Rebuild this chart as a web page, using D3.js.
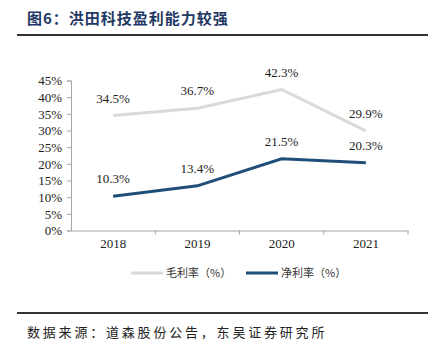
<!DOCTYPE html>
<html><head><meta charset="utf-8">
<script src="https://cdn.jsdelivr.net/npm/d3@7/dist/d3.min.js"></script>
<style>body{margin:0;background:#fff}svg{display:block}</style>
</head><body>
<svg id="c" width="434" height="357"></svg>
<script>
const years = ["2018","2019","2020","2021"];
const grossMargin = [34.5, 36.7, 42.3, 29.9];
const netMargin = [10.3, 13.4, 21.5, 20.3];
const yTicks = [0,5,10,15,20,25,30,35,40,45];
const seriesNames = ["毛利率（%）","净利率（%）"];

const svg = d3.select("#c");
const serif = "'Liberation Serif','Times New Roman',serif";
const cjk = "'Noto Sans CJK SC',sans-serif";

// title
svg.append("text").attr("x",27).attr("y",24).attr("font-family",cjk).attr("font-weight","bold")
  .attr("font-size",15).attr("letter-spacing",1).attr("fill","#1f3864").text("图6：洪田科技盈利能力较强");
svg.append("line").attr("x1",17).attr("x2",428).attr("y1",35).attr("y2",35).attr("stroke","#333").attr("stroke-width",2);

const x = d3.scaleBand().domain(years).range([71,408]);
const y = d3.scaleLinear().domain([0,45]).range([230.5,80.5]);
const axisColor = "#a6a6a6";

// y axis
const ya = svg.append("g").attr("transform","translate(71,0)")
  .call(d3.axisLeft(y).tickValues(yTicks).tickSize(4).tickFormat(d=>d+"%"));
ya.select(".domain").attr("stroke",axisColor);
ya.selectAll(".tick line").attr("stroke",axisColor);
ya.selectAll(".tick text").attr("font-family",serif).attr("font-size",13).attr("fill","#222").attr("dx",-2);

// x axis
const xa = svg.append("g").attr("transform","translate(0,230.5)")
  .call(d3.axisBottom(x).tickSize(0).tickSizeOuter(0));
xa.select(".domain").attr("stroke",axisColor);
xa.selectAll(".tick text").attr("font-family",serif).attr("font-size",13).attr("fill","#222").attr("dy","1.1em");
// band separators
xa.selectAll(".sep").data(years.slice(1).concat(["end"])).enter().append("line")
  .attr("x1",(d,i)=>i<3?x(d):x.range()[1]).attr("x2",(d,i)=>i<3?x(d):x.range()[1])
  .attr("y1",0).attr("y2",4).attr("stroke",axisColor);

const cx = d => x(d)+x.bandwidth()/2;
const line = d3.line().x((d,i)=>cx(years[i])).y(d=>y(d));

svg.append("path").datum(grossMargin).attr("d",line).attr("fill","none").attr("stroke","#d9d9d9").attr("stroke-width",3);
svg.append("path").datum(netMargin).attr("d",line).attr("fill","none").attr("stroke","#1f4e79").attr("stroke-width",3);

function labels(data){
  svg.append("g").selectAll("text").data(data).enter().append("text")
    .attr("x",(d,i)=>cx(years[i])).attr("y",d=>y(d)-13).attr("text-anchor","middle")
    .attr("font-family",serif).attr("font-size",13).attr("fill","#222").text(d=>d.toFixed(1)+"%");
}
labels(grossMargin);
labels(netMargin);

// legend
const lg = [{c:"#d9d9d9",x:131},{c:"#1f4e79",x:246}];
lg.forEach((l,i)=>{
  svg.append("line").attr("x1",l.x).attr("x2",l.x+32).attr("y1",273).attr("y2",273).attr("stroke",l.c).attr("stroke-width",3);
  svg.append("text").attr("x",l.x+35).attr("y",277).attr("font-family",cjk).attr("font-size",11).attr("fill","#333").text(seriesNames[i]);
});

// footer
svg.append("line").attr("x1",17).attr("x2",428).attr("y1",313).attr("y2",313).attr("stroke","#333").attr("stroke-width",2);
svg.append("text").attr("x",27).attr("y",336.5).attr("font-family",cjk).attr("font-size",13).attr("letter-spacing",2.8).attr("fill","#222").text("数据来源：道森股份公告，东吴证券研究所");
</script>
</body></html>
